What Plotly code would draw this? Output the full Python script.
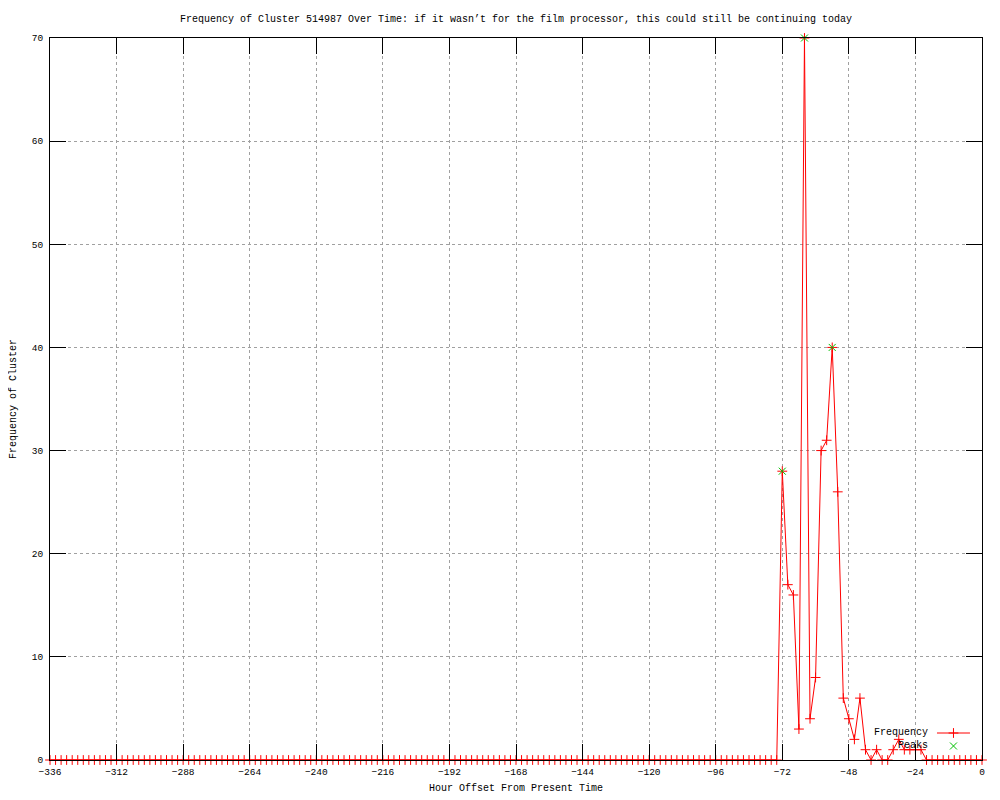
import plotly.graph_objects as go

# hour offsets sampled every 2 hours, -336 .. 0
hours = list(range(-336, 1, 2))

# non-zero counts; everything else is 0
nonzero_counts = {
    -72: 28, -70: 17, -68: 16, -66: 3, -64: 70, -62: 4, -60: 8,
    -58: 30, -56: 31, -54: 40, -52: 26, -50: 6, -48: 4, -46: 2,
    -44: 6, -42: 1, -38: 1, -32: 1, -30: 2, -28: 1, -26: 1,
    -24: 1, -22: 1,
}
frequency = [nonzero_counts.get(h, 0) for h in hours]

peak_hours = [-72, -64, -54]
peak_values = [28, 70, 40]

x_ticks = list(range(-336, 1, 24))
y_ticks = list(range(0, 71, 10))

TITLE = ("Frequency of Cluster 514987 Over Time: if it wasn\u2019t for the film "
         "processor, this could still be continuing today")

RED = "#ff0000"
GREEN = "#00c000"
FONT = "Liberation Mono"

fig = go.Figure()

fig.add_trace(go.Scatter(
    x=hours, y=frequency, mode="lines+markers", name="Frequency",
    line={"color": RED, "width": 1},
    marker={"symbol": "cross-thin", "size": 7, "line": {"color": RED, "width": 1}},
    cliponaxis=False,
))
fig.add_trace(go.Scatter(
    x=peak_hours, y=peak_values, mode="markers", name="Peaks",
    marker={"symbol": "x-thin", "size": 7, "line": {"color": GREEN, "width": 1}},
    cliponaxis=False,
))

# gnuplot-style key: text on the left, sample on the right
fig.add_trace(go.Scatter(
    x=[0.9517, 0.9871], y=[0.0374, 0.0374], mode="lines", xaxis="x2", yaxis="y2",
    line={"color": RED, "width": 1}, hoverinfo="skip",
))
fig.add_trace(go.Scatter(
    x=[0.9694], y=[0.0374], mode="markers", xaxis="x2", yaxis="y2",
    marker={"symbol": "cross-thin", "size": 7, "line": {"color": RED, "width": 1}},
    hoverinfo="skip",
))
fig.add_trace(go.Scatter(
    x=[0.9694], y=[0.0194], mode="markers", xaxis="x2", yaxis="y2",
    marker={"symbol": "x-thin", "size": 7, "line": {"color": GREEN, "width": 1}},
    hoverinfo="skip",
))
for label, ypos in [("Frequency", 0.0374), ("Peaks", 0.0194)]:
    fig.add_annotation(
        text=label, xref="paper", yref="paper", x=0.9442, y=ypos,
        xanchor="right", yanchor="middle", showarrow=False,
        font={"family": FONT, "size": 10, "color": "black"},
    )

# y axis title, placed by hand so it sits close to the page edge
fig.add_annotation(
    text="Frequency of Cluster", xref="paper", yref="paper", x=0, y=0.5,
    xanchor="center", yanchor="middle", xshift=-37, textangle=-90,
    showarrow=False, font={"family": FONT, "size": 10, "color": "black"},
)

axis_common = dict(
    showline=True, linecolor="black", linewidth=1, mirror="allticks",
    ticks="inside", ticklen=16, tickcolor="black", tickwidth=1,
    showgrid=True, gridcolor="#a0a0a0", gridwidth=1, griddash="dot",
    zeroline=False, automargin=False,
    tickfont={"family": FONT, "size": 9.5, "color": "black"},
)

# the page body adds an 8px offset, margins are shifted to compensate
fig.update_layout(
    width=1000, height=800,
    paper_bgcolor="white", plot_bgcolor="white",
    showlegend=False,
    margin={"l": 42, "r": 26, "t": 30, "b": 48},
    title={"text": TITLE, "x": 0.508, "xanchor": "center", "y": 0.9875,
           "yanchor": "middle", "font": {"family": FONT, "size": 10, "color": "black"}},
    xaxis=dict(
        axis_common, range=[-336, 0], tickvals=x_ticks, ticklabelstandoff=3,
        title={"text": "Hour Offset From Present Time", "standoff": 6,
               "font": {"family": FONT, "size": 10, "color": "black"}},
    ),
    yaxis=dict(
        axis_common, range=[0, 70], tickvals=y_ticks, ticklabelstandoff=4,
    ),
    xaxis2={"overlaying": "x", "range": [0, 1], "visible": False},
    yaxis2={"overlaying": "y", "range": [0, 1], "visible": False},
)

fig.write_html("out.html")
